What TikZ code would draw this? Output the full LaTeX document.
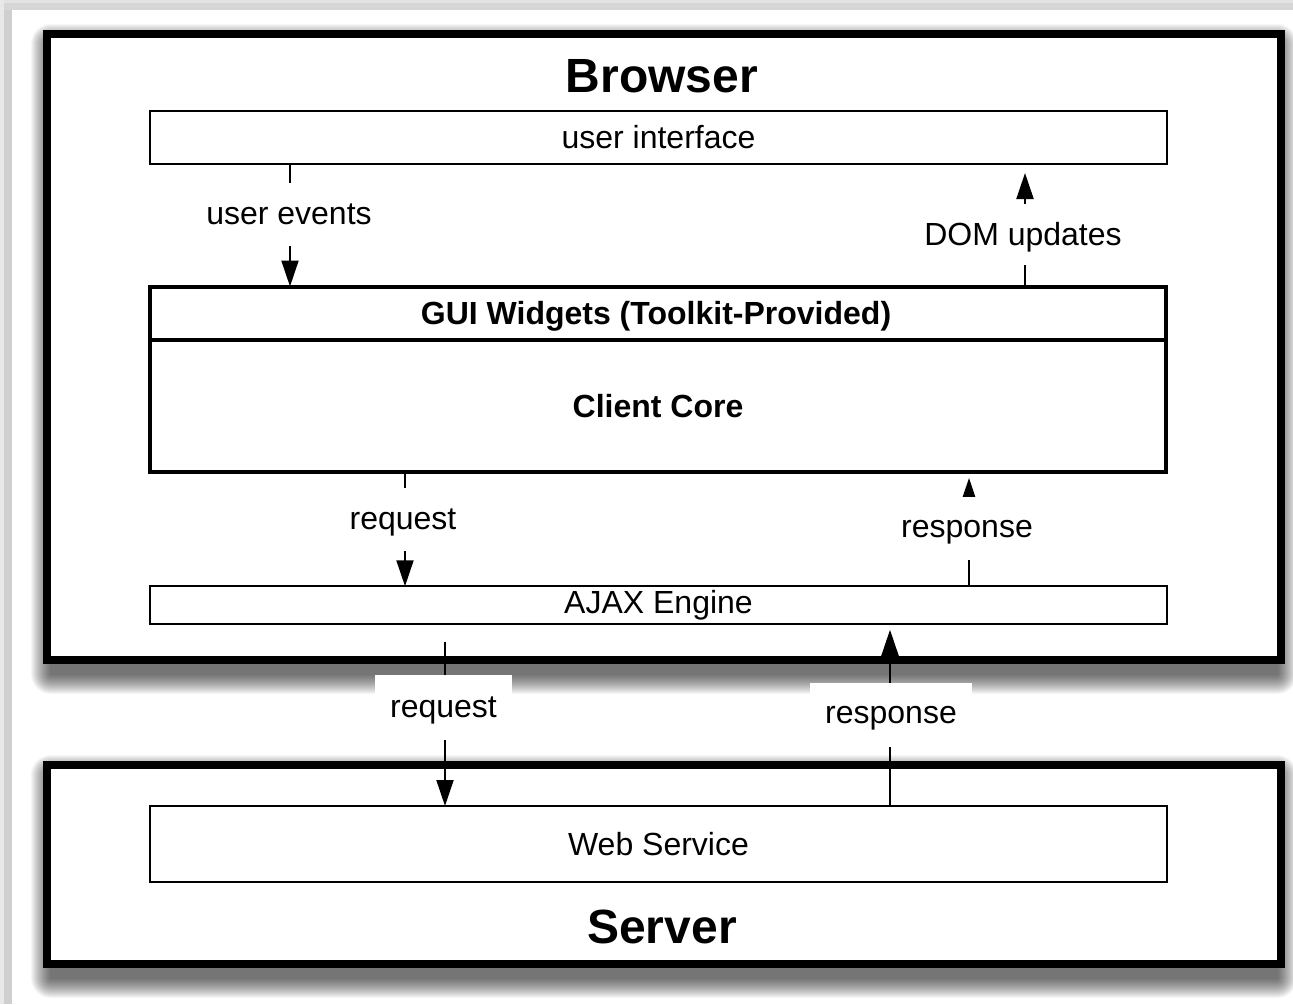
\documentclass[tikz,border=0pt]{standalone}
\usepackage{fontspec}
\setmainfont{Liberation Sans}
\usetikzlibrary{arrows.meta,calc}

\tikzset{
  lbl/.style={font=\fontsize{32}{38}\selectfont},
  boldlbl/.style={font=\fontsize{32}{38}\selectfont\bfseries},
  title/.style={font=\fontsize{48}{56}\selectfont\bfseries},
  tier/.style={draw=black, line width=8pt, fill=white, inner sep=0pt, outer sep=0pt},
  thinbox/.style={draw=black, line width=2pt, fill=white, inner sep=0pt, outer sep=0pt,
    minimum width=1017pt, lbl},
  thickbox/.style={draw=black, line width=4pt, inner sep=0pt, outer sep=0pt,
    minimum width=1016.5pt, boldlbl},
  flow/.style={draw=black, line width=2pt,
    -{Triangle[length=26pt,width=17pt]}},
  gaplbl/.style={lbl, fill=white, inner sep=0pt, text depth=0pt,
    minimum height=63pt, inner xsep=15pt}
}

% soft drop shadow behind a tier box: stacked translucent rectangles,
% the base sits lower than the box and slightly inside it horizontally
\newcommand{\tiershadow}[1]{%
  \foreach \e in {1,...,20}{
    \fill[black, opacity=0.035, rounded corners=\e pt]
      ($(#1.north west)+(4-\e,10-\e)$) rectangle ($(#1.south east)+(-4+\e,14+\e)$);
  }%
}

\begin{document}
\begin{tikzpicture}[x=1pt,y=-1pt]
  \useasboundingbox (0,0) rectangle (1293,1004);
  \fill[white] (0,0) rectangle (1293,1004);

  % window frame strips along the top and left edges
  \fill[gray!22] (0,0) rectangle (1293,3);
  \fill[gray!32] (0,3) rectangle (1293,10);
  \fill[gray!18] (0,0) rectangle (4,1004);
  \fill[gray!38] (4,10) rectangle (12,1004);

  % tier areas, placed first so their shadows can go underneath
  \path (664,347) node[minimum width=1234pt, minimum height=626pt, inner sep=0pt, outer sep=0pt] (browserarea) {};
  \path (664,864.5) node[minimum width=1234pt, minimum height=199pt, inner sep=0pt, outer sep=0pt] (serverarea) {};
  \tiershadow{browserarea}
  \tiershadow{serverarea}

  % the two tiers
  \node[tier, minimum width=1234pt, minimum height=626pt] (browser) at (browserarea) {};
  \node[tier, minimum width=1234pt, minimum height=199pt] (server) at (serverarea) {};

  \node[title] (browsertitle) at (662,76) {Browser};
  \node[title] (servertitle) at (662,927) {Server};

  % browser layers
  \node[thinbox, minimum height=53pt] (ui) at (658.5,137.5) {user interface};
  \node[thickbox, minimum height=53pt] (gui) at (658,313) {};
  \node[boldlbl] (guitext) at (656,316) {GUI Widgets (Toolkit-Provided)};
  \node[thickbox, minimum height=132.5pt] (core) at (658,405.75) {Client Core};
  \node[thinbox, minimum height=37.5pt] (ajax) at (658.5,605) {AJAX Engine};

  % server layer
  \node[thinbox, minimum height=76pt] (web) at (658.5,844) {Web Service};

  % x positions of the connectors
  \coordinate (xue) at (290,0);
  \coordinate (xdom) at (1025,0);
  \coordinate (xreq) at (405,0);
  \coordinate (xres) at (969,0);
  \coordinate (xoreq) at (445,0);
  \coordinate (xores) at (890,0);

  % connectors inside the browser
  \draw[flow] (ui.south -| xue) -- (gui.north -| xue);
  \node[gaplbl] (uelbl) at (289,214.5) {user events};
  \draw[flow] (gui.north -| xdom) -- ([yshift=-9pt]ui.south -| xdom);
  \node[gaplbl, minimum height=61pt] (domlbl) at (1023,234) {DOM updates};
  \draw[flow] (core.south -| xreq) -- (ajax.north -| xreq);
  \node[gaplbl] (reqlbl) at (403,519) {request};
  \draw[flow] (ajax.north -| xres) -- ([yshift=-6pt]core.south -| xres);
  \node[gaplbl] (reslbl) at (967,528.5) {response};

  % connectors between browser and server
  \draw[flow] ([yshift=-18pt]ajax.south -| xoreq) -- (web.north -| xoreq);
  \node[gaplbl, minimum height=65pt] (oreqlbl) at (443.5,707.5) {request};
  \draw[flow] (web.north -| xores) -- ([yshift=-6pt]ajax.south -| xores);
  \node[gaplbl, minimum height=64pt, minimum width=158pt] (oreslbl) at (891,715) {response};
\end{tikzpicture}
\end{document}
